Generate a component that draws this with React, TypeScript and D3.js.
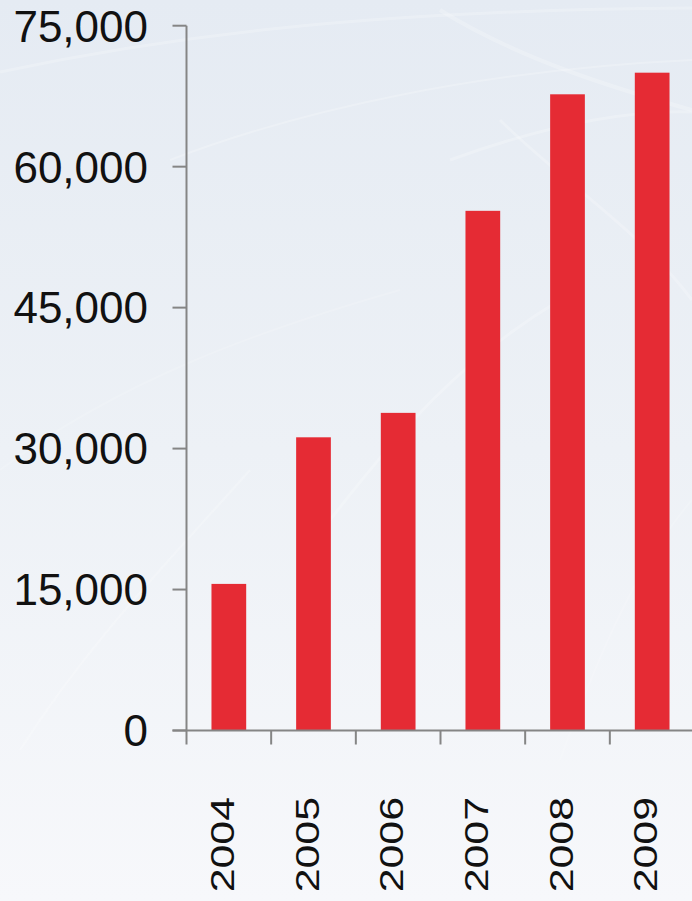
import * as d3 from "d3";

/* Data ------------------------------------------------------------- */

const YEARS = ["2004", "2005", "2006", "2007", "2008", "2009"];
const VALUES = [15600, 31200, 33800, 55300, 67700, 70000];
const Y_TICKS = [0, 15000, 30000, 45000, 60000, 75000];

/* Theme ------------------------------------------------------------ */

const W = 692;
const H = 901;
const BAR = "#e52b34";
const AXIS = "#858585";
const TEXT = "#111111";
const FONT = "'Liberation Sans', Arial, sans-serif";

export default function App() {
  const x = d3.scaleBand<string>().domain(YEARS).range([186.5, 694.5]).padding(0);
  const y = d3.scaleLinear().domain([0, 75000]).range([730.5, 25.7]);
  const step = x.step();
  const barW = step * 0.41;
  const fmt = d3.format(",");

  const axisX = x.range()[0];
  const baseY = y(0);

  return (
    <>
      <style>{`body{margin:0}`}</style>
      <svg width={W} height={H} style={{ display: "block" }}>
        <defs>
          <linearGradient id="bg" x1="0" y1="0" x2="0" y2="1">
            <stop offset="0" stopColor="#e5ebf3" />
            <stop offset="0.5" stopColor="#edf1f6" />
            <stop offset="1" stopColor="#f7f8fb" />
          </linearGradient>
        </defs>
        <rect width={W} height={H} fill="url(#bg)" />

        {/* faint background swooshes */}
        <g fill="none" stroke="#ffffff" strokeOpacity={0.22}>
          <path d="M0,72 C150,40 350,10 692,8" strokeWidth={3} />
          <path d="M170,160 C300,110 480,70 692,60" strokeWidth={2} />
          <path d="M440,10 C520,60 620,90 692,110" strokeWidth={4} />
          <path d="M450,160 C560,120 640,110 692,112" strokeWidth={3} />
          <path d="M20,750 C90,640 170,560 250,470" strokeWidth={2} />
          <path d="M330,520 C400,430 460,360 560,300" strokeWidth={3} />
          <path d="M500,120 C560,180 640,230 692,300" strokeWidth={3} />
          <path d="M0,470 C120,380 260,330 400,290" strokeWidth={2} strokeOpacity={0.15} />
          <path d="M560,760 C600,650 640,560 692,500" strokeWidth={2} strokeOpacity={0.15} />
        </g>

        {/* Bars */}
        {YEARS.map((yr, i) => (
          <rect
            key={yr}
            x={(x(yr) ?? 0) + (step - barW) / 2}
            y={y(VALUES[i])}
            width={barW}
            height={baseY - y(VALUES[i])}
            fill={BAR}
          />
        ))}

        {/* Y axis */}
        <line x1={axisX} x2={axisX} y1={y(75000)} y2={baseY + 14} stroke={AXIS} strokeWidth={2} />
        {Y_TICKS.map((t) => (
          <g key={t}>
            <line x1={axisX - 14} x2={axisX} y1={y(t)} y2={y(t)} stroke={AXIS} strokeWidth={2} />
            <text
              x={148}
              y={y(t)}
              dy="0.36em"
              textAnchor="end"
              fontFamily={FONT}
              fontSize={44}
              fill={TEXT}
            >
              {fmt(t)}
            </text>
          </g>
        ))}

        {/* X axis */}
        <line x1={axisX - 14} x2={W} y1={baseY} y2={baseY} stroke={AXIS} strokeWidth={2} />
        {YEARS.map((yr) => (
          <line
            key={`t${yr}`}
            x1={(x(yr) ?? 0) + step}
            x2={(x(yr) ?? 0) + step}
            y1={baseY}
            y2={baseY + 14}
            stroke={AXIS}
            strokeWidth={2}
          />
        ))}
        {YEARS.map((yr) => {
          const cx = (x(yr) ?? 0) + step / 2 + 5;
          return (
            <text
              key={`l${yr}`}
              transform={`translate(${cx},797) rotate(-90) scale(1.28,1)`}
              textAnchor="end"
              fontFamily={FONT}
              fontSize={33.5}
              fill={TEXT}
            >
              {yr}
            </text>
          );
        })}
      </svg>
    </>
  );
}
